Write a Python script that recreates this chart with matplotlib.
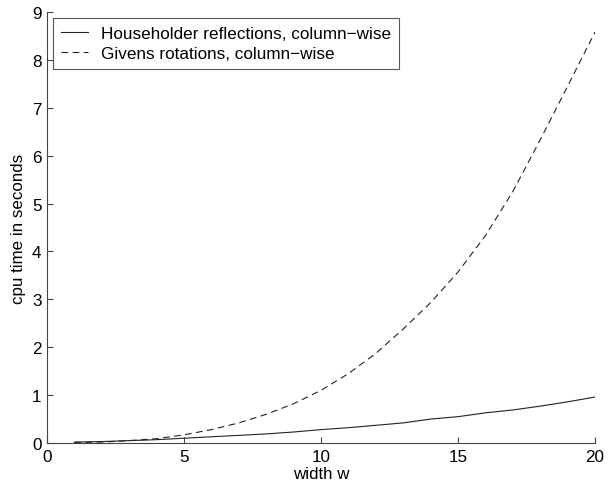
import matplotlib
matplotlib.use("Agg")
import matplotlib.pyplot as plt

plt.rcParams['font.family'] = ['Liberation Sans', 'DejaVu Sans']

width = list(range(1, 21))
householder = [0.02, 0.03, 0.05, 0.07, 0.10, 0.13, 0.16, 0.19, 0.23, 0.28,
               0.32, 0.37, 0.42, 0.50, 0.55, 0.63, 0.69, 0.77, 0.86, 0.96]
givens = [0.01, 0.02, 0.05, 0.09, 0.17, 0.28, 0.42, 0.60, 0.82, 1.10,
          1.45, 1.87, 2.38, 2.93, 3.57, 4.33, 5.25, 6.33, 7.45, 8.58]

labels = ['Householder reflections, column\u2212wise',
          'Givens rotations, column\u2212wise']

fig = plt.figure(figsize=(6.16, 4.85), dpi=100)
ax = fig.add_axes([0.0763, 0.0845, 0.8896, 0.8887])

ax.plot(width, householder, color='#222222', linestyle='-', linewidth=0.8, label=labels[0])
ax.plot(width, givens, color='#222222', linestyle=(0, (6, 4)), linewidth=0.8, label=labels[1])

ax.set_xlim(0, 20)
ax.set_ylim(0, 9)
ax.set_xticks([0, 5, 10, 15, 20])
ax.set_yticks(range(10))

for side in ('top', 'right'):
    ax.spines[side].set_visible(False)
for side in ('left', 'bottom'):
    ax.spines[side].set_color('#444444')
    ax.spines[side].set_linewidth(0.8)

ax.tick_params(direction='in', length=4, width=0.8, color='#444444',
               labelsize=12.3, pad=4)

ax.set_xlabel('width w', fontsize=12.2, labelpad=2)
ax.set_ylabel('cpu time in seconds', fontsize=12.2, labelpad=4)

leg = ax.legend(loc='upper left', bbox_to_anchor=(0.011, 0.986), fontsize=12.3,
                fancybox=False, framealpha=1, edgecolor='#555555',
                borderpad=0.45, handlelength=1.6, labelspacing=0.3,
                borderaxespad=0, handletextpad=0.75)
leg.get_frame().set_linewidth(0.8)

fig.savefig('out.png', dpi=100)
